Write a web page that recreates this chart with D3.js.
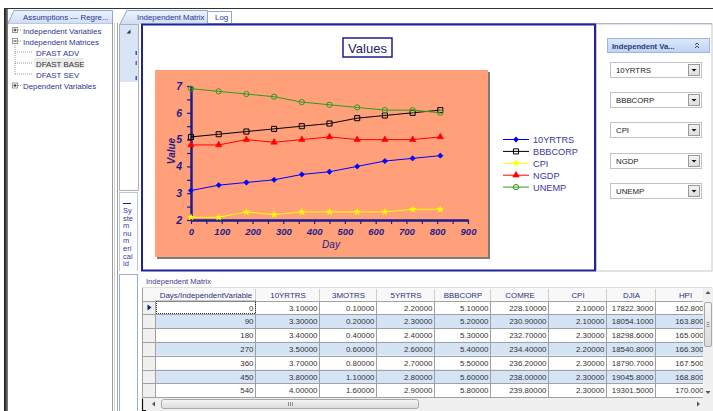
<!DOCTYPE html>
<html><head><meta charset="utf-8">
<script src="https://cdn.jsdelivr.net/npm/d3@7"></script>
<style>
html,body{margin:0;padding:0;background:#fff;overflow:hidden}
svg{display:block;font-family:"Liberation Sans",Arial,sans-serif}
</style></head><body>
<svg id="c" width="713" height="411"></svg>
<script>
// ---------- data ----------
const days = [0,90,180,270,360,450,540,630,720,810];
const seriesNames = ["10YRTRS","BBBCORP","CPI","NGDP","UNEMP"];
const yr10 = [3.1,3.3,3.4,3.5,3.7,3.8,4.0,4.2,4.3,4.4];
const bbbcorp = [5.1,5.2,5.3,5.4,5.5,5.6,5.8,5.9,6.0,6.1];
const cpi = [2.1,2.1,2.3,2.2,2.3,2.3,2.3,2.3,2.4,2.4];
const ngdp = [4.8,4.8,5.0,4.9,5.0,5.1,5.0,5.0,5.0,5.1];
const unemp = [6.9,6.8,6.7,6.6,6.4,6.3,6.2,6.1,6.1,6.0];
const xTicks = [0,100,200,300,400,500,600,700,800,900];
const yTicks = [2,3,4,5,6,7];
const chartTitle = "Values", xTitle = "Day", yTitle = "Value";

const tableColumns = ["Days/IndependentVariable","10YRTRS","3MOTRS","5YRTRS","BBBCORP","COMRE","CPI","DJIA","HPI"];
const mo3 = [0.1,0.2,0.4,0.6,0.8,1.1,1.6];
const yr5 = [2.2,2.3,2.4,2.6,2.7,2.8,2.9];
const comre = [228.1,230.9,232.7,234.4,236.2,238.0,239.8];
const djia = [17822.3,18054.1,18298.6,18540.8,18790.7,19045.8,19301.5];
const hpi = [162.8,163.8,165.0,166.3,167.5,168.8,170.0];

const treeLabels = ["Independent Variables","Independent Matrices","DFAST ADV","DFAST BASE","DFAST SEV","Dependent Variables"];
const tabLabels = ["Independent Matrix","Log"];

// ---------- helpers ----------
const svg = d3.select("#c");
const navy = "#1c1c8c";
const uiText = "#2e3590";
const defs = svg.append("defs");
function grad(id, c1, c2){
  const g = defs.append("linearGradient").attr("id",id).attr("x1",0).attr("y1",0).attr("x2",0).attr("y2",1);
  g.append("stop").attr("offset","0%").attr("stop-color",c1);
  g.append("stop").attr("offset","100%").attr("stop-color",c2);
}
grad("tabg","#eef3fb","#cfdef4");
grad("hdrg","#dde9f9","#bcd3f2");
grad("btng","#f4f4f4","#dcdcdc");
grad("thumbg","#f6f6f6","#dadada");
const lg = defs.append("linearGradient").attr("id","edge").attr("x1",0).attr("x2",1);
lg.append("stop").attr("offset","0%").attr("stop-color","#111");
lg.append("stop").attr("offset","100%").attr("stop-color","#888");

// ---------- window chrome ----------
svg.append("rect").attr("x",4).attr("y",8).attr("width",4).attr("height",403).attr("fill","url(#edge)");
svg.append("line").attr("x1",4).attr("x2",713).attr("y1",8.5).attr("y2",8.5).attr("stroke","#333").attr("stroke-width",1.2);

// left panel
svg.append("path").attr("d","M8,23.5 L14,10.5 L112.5,10.5 L112.5,23.5").attr("fill","url(#tabg)").attr("stroke","#8ea8d0");
svg.append("text").attr("x",23).attr("y",20).attr("font-size",7.9).attr("fill",uiText).text("Assumptions --- Regre...");
svg.append("line").attr("x1",112.5).attr("x2",112.5).attr("y1",23).attr("y2",411).attr("stroke","#9a9a9a");
svg.append("line").attr("x1",114.5).attr("x2",114.5).attr("y1",23).attr("y2",411).attr("stroke","#d0d0d0");
svg.append("line").attr("x1",117.5).attr("x2",117.5).attr("y1",23).attr("y2",411).attr("stroke","#a0a0a0");
svg.append("line").attr("x1",8).attr("x2",112).attr("y1",23.5).attr("y2",23.5).attr("stroke","#b8c8e0");

// tree
const treeY = [30.5,41.5,52.5,63.5,74.5,86];
const treeLevel = [0,0,1,1,1,0];
const treeBox = ["+","-",null,null,null,"+"];
const tree = svg.append("g");
tree.append("line").attr("x1",15).attr("x2",15).attr("y1",45).attr("y2",74.5).attr("stroke","#999").attr("stroke-dasharray","1,1");
treeLabels.forEach((t,i)=>{
  const y = treeY[i];
  if(treeLevel[i]===0){
    tree.append("rect").attr("x",12.5).attr("y",y-3).attr("width",5).attr("height",5).attr("fill","#fff").attr("stroke","#999");
    tree.append("line").attr("x1",13.5).attr("x2",16.5).attr("y1",y-0.5).attr("y2",y-0.5).attr("stroke","#333");
    if(treeBox[i]==="+") tree.append("line").attr("x1",15).attr("x2",15).attr("y1",y-2).attr("y2",y+1).attr("stroke","#333");
    tree.append("line").attr("x1",18).attr("x2",22).attr("y1",y-0.5).attr("y2",y-0.5).attr("stroke","#999").attr("stroke-dasharray","1,1");
    tree.append("text").attr("x",23).attr("y",y+3).attr("font-size",7.9).attr("fill",uiText).text(t);
  } else {
    tree.append("line").attr("x1",15).attr("x2",33).attr("y1",y-0.5).attr("y2",y-0.5).attr("stroke","#999").attr("stroke-dasharray","1,1");
    if(i===3) tree.append("rect").attr("x",34.5).attr("y",y-5.5).attr("width",49).attr("height",10).attr("fill","#eaeaea");
    tree.append("text").attr("x",36).attr("y",y+3).attr("font-size",7.9).attr("fill",i===3?"#333":uiText).text(t);
  }
});

// narrow column
svg.append("rect").attr("x",119.5).attr("y",24.5).attr("width",19).attr("height",166).attr("fill","#fff").attr("stroke","#b0b0b0");
svg.append("rect").attr("x",120).attr("y",25).attr("width",18).attr("height",57).attr("fill","#d8e5f7");
svg.append("path").attr("d","M130.5,29.5 L130.5,33.5 L126.5,33.5 Z").attr("fill","#333");
[[51,"#3355cc"],[61,"#7a55aa"],[76,"#3355cc"]].forEach(([y,c])=>svg.append("rect").attr("x",135.5).attr("y",y).attr("width",1.5).attr("height",4).attr("fill",c));
svg.append("rect").attr("x",119.5).attr("y",192.5).attr("width",18).attr("height",81).attr("fill","#fff").attr("stroke","#b4c8e4");
svg.append("line").attr("x1",123).attr("x2",131).attr("y1",203.5).attr("y2",203.5).attr("stroke",navy);
["Sy","ste","m","nu","m","eri","cal","id"].forEach((t,i)=>svg.append("text").attr("x",123).attr("y",213+i*7.6).attr("font-size",7.5).attr("fill","#3838a8").text(t));
svg.append("rect").attr("x",119.5).attr("y",274.5).attr("width",18).attr("height",140).attr("fill","#fff").attr("stroke","#8eb0e0");
svg.append("rect").attr("x",118).attr("y",271).attr("width",22).attr("height",3).attr("fill","#fff");

// main tabs
svg.append("line").attr("x1",207).attr("x2",712).attr("y1",23.5).attr("y2",23.5).attr("stroke","#8ea8d0");
svg.append("path").attr("d","M120,24 L127,10.5 L207.5,10.5 L207.5,24").attr("fill","url(#tabg)").attr("stroke","#8ea8d0");
svg.append("text").attr("x",137).attr("y",20).attr("font-size",7.9).attr("fill",uiText).text(tabLabels[0]);
svg.append("rect").attr("x",207.5).attr("y",11.5).attr("width",24).attr("height",12).attr("fill","#fff").attr("stroke","#8ea8d0");
svg.append("text").attr("x",215).attr("y",20).attr("font-size",7.9).attr("fill",uiText).text(tabLabels[1]);

// chart frame
svg.append("rect").attr("x",142).attr("y",24.5).attr("width",453).attr("height",246).attr("fill","#fff").attr("stroke","#22229a").attr("stroke-width",2);

// right panel
svg.append("rect").attr("x",596.5).attr("y",24).attr("width",115.5).attr("height",247).attr("fill","#fff").attr("stroke","#c8c8c8");
svg.append("rect").attr("x",607.5).attr("y",38.5).attr("width",102).attr("height",14).attr("fill","url(#hdrg)").attr("stroke","#9cb6dc");
svg.append("text").attr("x",612).attr("y",48.5).attr("font-size",7.6).attr("font-weight","bold").attr("fill","#1e3c7c").text("Independent Va...");
svg.append("path").attr("d","M695,45 L697,43 L699,45 M695,48 L697,46 L699,48").attr("fill","none").attr("stroke","#333").attr("stroke-width",0.9);
const ddY = [62,92,122,153,183];
seriesNames.forEach((n,i)=>{
  const y = ddY[i];
  const g = svg.append("g");
  g.append("rect").attr("x",610.5).attr("y",y+0.5).attr("width",91).attr("height",15).attr("fill","#fff").attr("stroke","#c2c2c2");
  g.append("text").attr("x",616).attr("y",y+11).attr("font-size",7.8).attr("fill","#222").text(n);
  g.append("rect").attr("x",688.5).attr("y",y+2.5).attr("width",11).attr("height",11).attr("fill","url(#btng)").attr("stroke","#9a9a9a");
  g.append("path").attr("d",`M691.5,${y+7} L696.5,${y+7} L694,${y+9.5} Z`).attr("fill","#111");
});

// ---------- chart ----------
const x = d3.scaleLinear().domain([0,900]).range([191,468]);
const y = d3.scaleLinear().domain([2,7]).range([220,86]);

svg.append("rect").attr("x",157).attr("y",72).attr("width",333).attr("height",187).attr("fill","#7a7a7a");
svg.append("rect").attr("x",155).attr("y",70).attr("width",333).attr("height",187).attr("fill","#ffa07a");

svg.append("rect").attr("x",343).attr("y",38).attr("width",49).attr("height",19).attr("fill","#fff").attr("stroke",navy).attr("stroke-width",1.5);
svg.append("text").attr("x",367.5).attr("y",52.5).attr("text-anchor","middle").attr("font-size",13).attr("fill","#1a1a6a").text(chartTitle);

function styleAxis(g){
  g.selectAll("path,line").attr("stroke",navy);
  g.select(".domain").attr("stroke-width",2);
  g.selectAll("line").attr("stroke-width",1.2);
  g.selectAll("text").attr("fill",navy).attr("font-size",9.5).attr("font-weight","bold").attr("font-style","italic").attr("font-family","Liberation Sans,Arial,sans-serif");
}
const xMinor = svg.append("g").attr("transform","translate(0,220)")
  .call(d3.axisBottom(x).tickValues(d3.range(50,900,100)).tickSize(4).tickSizeOuter(0).tickFormat(""));
styleAxis(xMinor);
const xAxis = svg.append("g").attr("transform","translate(0,220)")
  .call(d3.axisBottom(x).tickValues(xTicks).tickSize(4).tickSizeOuter(0).tickPadding(4).tickFormat(d3.format("d")));
styleAxis(xAxis);
const yMinor = svg.append("g").attr("transform","translate(191,0)")
  .call(d3.axisLeft(y).tickValues(d3.range(2.5,7,1)).tickSize(4).tickSizeOuter(0).tickFormat(""));
styleAxis(yMinor);
const yAxis = svg.append("g").attr("transform","translate(191,0)")
  .call(d3.axisLeft(y).tickValues(yTicks).tickSize(4).tickSizeOuter(0).tickPadding(5).tickFormat(d3.format("d")));
styleAxis(yAxis);
yAxis.selectAll("text").attr("font-size",10.5);

svg.append("text").attr("x",331).attr("y",248).attr("text-anchor","middle").attr("font-size",10).attr("font-style","italic").attr("fill",navy).text(xTitle);
svg.append("text").attr("transform","translate(175,151) rotate(-90)").attr("text-anchor","middle").attr("font-size",10).attr("font-weight","bold").attr("font-style","italic").attr("fill",navy).text(yTitle);

const seriesValues = [yr10,bbbcorp,cpi,ngdp,unemp];
const seriesColors = ["#0000ff","#000000","#ffff00","#ff0000","#2f9a1e"];
const seriesSymbols = [
  {type:d3.symbolSquare,size:14,rot:45,fill:true},
  {type:d3.symbolSquare,size:26,rot:0,fill:false},
  {type:d3.symbolStar,size:12,rot:0,fill:true},
  {type:d3.symbolTriangle,size:18,rot:0,fill:true},
  {type:d3.symbolCircle,size:22,rot:0,fill:false}
];
const line = d3.line().x((d,i)=>x(days[i])).y(d=>y(d));
function drawMarker(g,i,cx,cy){
  const s = seriesSymbols[i];
  g.append("path").attr("d",d3.symbol().type(s.type).size(s.size)())
    .attr("transform",`translate(${cx},${cy}) rotate(${s.rot})`)
    .attr("fill",s.fill?seriesColors[i]:"none").attr("stroke",seriesColors[i]).attr("stroke-width",s.fill?0.6:1);
}
const order = [2,3,0,1,4];
order.forEach(i=>{
  const g = svg.append("g");
  g.append("path").datum(seriesValues[i]).attr("d",line).attr("fill","none").attr("stroke",seriesColors[i]).attr("stroke-width",1);
  seriesValues[i].forEach((v,j)=>drawMarker(g,i,x(days[j]),y(v)));
});

// legend
seriesNames.forEach((n,i)=>{
  const ly = 139.5 + i*11.9;
  const g = svg.append("g");
  g.append("line").attr("x1",503).attr("x2",529).attr("y1",ly).attr("y2",ly).attr("stroke",seriesColors[i]).attr("stroke-width",1);
  drawMarker(g,i,516,ly);
  g.append("text").attr("x",533).attr("y",ly+3.5).attr("font-size",9.2).attr("fill","#3a3aa0").text(n);
});

// ---------- table ----------
svg.append("text").attr("x",146).attr("y",284).attr("font-size",7.6).attr("fill","#45388a").text("Independent Matrix");
const colEdges = [143,156,256,320,377,435,491,549,607,656,715];
const tableData = [days.slice(0,7), yr10.slice(0,7), mo3, yr5, bbbcorp.slice(0,7), comre, cpi.slice(0,7), djia, hpi];
const fmts = [d3.format("d"),d3.format(".5f"),d3.format(".5f"),d3.format(".5f"),d3.format(".5f"),d3.format(".5f"),d3.format(".5f"),d3.format(".4f"),d3.format(".5f")];
defs.append("clipPath").attr("id","tclip").append("rect").attr("x",142).attr("y",286).attr("width",561).attr("height",112);
const tb = svg.append("g").attr("clip-path","url(#tclip)");
const hdrTop = 288, rowTop = 300.5, rowH = 13.8;
tb.append("rect").attr("x",143).attr("y",hdrTop).attr("width",572).attr("height",12.5).attr("fill","#f8f8f8");
tableColumns.forEach((c,k)=>{
  const x0 = colEdges[k+1], x1 = colEdges[k+2];
  tb.append("text").attr("x",(x0+x1)/2).attr("y",hdrTop+9.5).attr("text-anchor","middle").attr("font-size",7.9).attr("fill","#2e2e80").text(c);
  tb.append("line").attr("x1",x1-0.5).attr("x2",x1-0.5).attr("y1",hdrTop+1).attr("y2",hdrTop+12).attr("stroke","#d0d0d0");
});
for(let r=0;r<7;r++){
  const ry = rowTop + r*rowH;
  tb.append("rect").attr("x",156).attr("y",ry).attr("width",559).attr("height",rowH).attr("fill",r%2?"#d5e3f6":"#fff");
  tb.append("rect").attr("x",143).attr("y",ry).attr("width",13).attr("height",rowH).attr("fill","#f0f0f0");
  tableColumns.forEach((c,k)=>{
    const x1 = colEdges[k+2];
    tb.append("text").attr("x",x1-2.5).attr("y",ry+10).attr("text-anchor","end").attr("font-size",7.9).attr("fill","#333").text(fmts[k](tableData[k][r]));
  });
}
colEdges.slice(1).forEach(e=>tb.append("line").attr("x1",e-0.5).attr("x2",e-0.5).attr("y1",rowTop).attr("y2",397).attr("stroke","#a0a0a0"));
for(let r=0;r<=7;r++){
  const ly = Math.round(rowTop + r*rowH)+0.5;
  tb.append("line").attr("x1",143).attr("x2",715).attr("y1",ly).attr("y2",ly).attr("stroke","#a0a0a0");
}
tb.append("rect").attr("x",156.5).attr("y",rowTop+0.5).attr("width",99).attr("height",12.5).attr("fill","none").attr("stroke","#333").attr("stroke-dasharray","1,1");
tb.append("path").attr("d",`M147.5,${rowTop+4} L151.5,${rowTop+7} L147.5,${rowTop+10} Z`).attr("fill","#1a1a7a");
svg.append("line").attr("x1",142.5).attr("x2",142.5).attr("y1",287).attr("y2",411).attr("stroke","#a0a0a0");
svg.append("line").attr("x1",142).attr("x2",712).attr("y1",287.5).attr("y2",287.5).attr("stroke","#e0e0e0");

// vertical scrollbar
svg.append("rect").attr("x",703).attr("y",288).attr("width",10).attr("height",110).attr("fill","#f0f0f0");
svg.append("path").attr("d","M705.5,294 L708,291 L710.5,294 Z").attr("fill","#555");
svg.append("rect").attr("x",704.5).attr("y",302.5).attr("width",7).attr("height",44).attr("rx",1.5).attr("fill","url(#thumbg)").attr("stroke","#a8a8a8");
svg.append("path").attr("d","M706.5,322.5 H709.5 M706.5,324.5 H709.5 M706.5,326.5 H709.5").attr("stroke","#777").attr("stroke-width",0.8);
svg.append("path").attr("d","M705.5,391 L708,394 L710.5,391 Z").attr("fill","#555");
// horizontal scrollbar
svg.append("rect").attr("x",143).attr("y",398).attr("width",570).attr("height",13).attr("fill","#f0f0f0");
svg.append("path").attr("d","M155,401.5 L152,404 L155,406.5 Z").attr("fill","#555");
svg.append("rect").attr("x",161.5).attr("y",399.5).attr("width",257).attr("height",9).attr("rx",2).attr("fill","url(#thumbg)").attr("stroke","#a8a8a8");
svg.append("path").attr("d","M288.5,402 V406 M290.5,402 V406 M292.5,402 V406").attr("stroke","#777").attr("stroke-width",0.8);
svg.append("path").attr("d","M697,401.5 L700,404 L697,406.5 Z").attr("fill","#555");
svg.append("path").attr("d","M142.5,399 V410.5 H146").attr("fill","none").attr("stroke","#111").attr("stroke-width",1.2);
</script>
</body></html>
